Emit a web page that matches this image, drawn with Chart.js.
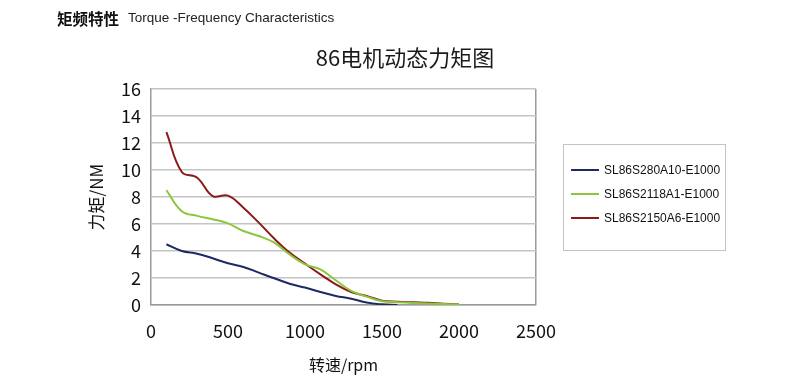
<!DOCTYPE html>
<html>
<head>
<meta charset="utf-8">
<script src="https://cdn.jsdelivr.net/npm/chart.js@4.4.1/dist/chart.umd.min.js"></script>
<style>
  html, body { margin: 0; padding: 0; background: #fff; }
  #wrap { position: relative; width: 797px; height: 382px; overflow: hidden; }
  #c { position: absolute; left: 0; top: 0; }
  .hdr-cn { position: absolute; left: 57px; top: 7px; font: bold 15.5px "Noto Sans CJK SC", sans-serif; color: #111; line-height: 22px; }
  .hdr-en { position: absolute; left: 128px; top: 10px; font: 13.5px "Liberation Sans", Arial, sans-serif; color: #222; line-height: 16px; }
  .title { position: absolute; left: 0; width: 810px; text-align: center; top: 41px; font: 22px "Noto Sans CJK SC", sans-serif; color: #1a1a1a; line-height: 30px; }
  .legend { position: absolute; left: 563px; top: 144px; width: 161px; height: 105px; border: 1px solid #c4c4c4; }
  .li { position: absolute; left: 7px; height: 16px; font: 12px "Liberation Sans", Arial, sans-serif; color: #111; line-height: 16px; white-space: nowrap; }
  .li span.sw { position: absolute; left: 0; top: 7px; width: 28px; height: 2px; }
  .li span.tx { position: absolute; left: 33px; top: 0; }
</style>
</head>
<body>
<div id="wrap">
  <canvas id="c" width="797" height="382"></canvas>
  <div class="hdr-cn">矩频特性</div>
  <div class="hdr-en">Torque -Frequency Characteristics</div>
  <div class="title">86电机动态力矩图</div>
  <div class="legend" id="legend"></div>
</div>
<script>
// ---- data ----
const speedsBlue = [100, 200, 300, 400, 500, 600, 700, 800, 900, 1000, 1100, 1200, 1300, 1400, 1500, 1600];
const torqueBlue = [4.5, 4.0, 3.8, 3.46, 3.09, 2.82, 2.4, 1.98, 1.58, 1.29, 0.96, 0.67, 0.47, 0.18, 0.05, 0.0];

const speedsGreen = [100, 200, 300, 400, 500, 600, 700, 800, 900, 1000, 1100, 1200, 1300, 1400, 1500, 1600, 1700, 1800, 1900, 2000];
const torqueGreen = [8.5, 6.95, 6.6, 6.35, 6.05, 5.48, 5.11, 4.62, 3.75, 3.01, 2.64, 1.83, 1.04, 0.62, 0.28, 0.2, 0.15, 0.12, 0.08, 0.05];

const speedsRed = [100, 200, 300, 400, 500, 600, 700, 800, 900, 1000, 1100, 1200, 1300, 1400, 1500, 1600, 1700, 1800, 1900, 2000];
const torqueRed = [12.8, 9.85, 9.43, 8.07, 8.1, 7.21, 6.1, 4.92, 3.88, 3.06, 2.27, 1.53, 0.96, 0.67, 0.32, 0.25, 0.2, 0.16, 0.1, 0.05];

const seriesNames = ["SL86S280A10-E1000", "SL86S2118A1-E1000", "SL86S2150A6-E1000"];
const seriesColors = ["#1d2a64", "#8cc63e", "#8c1a1a"];

const xTickValues = [0, 500, 1000, 1500, 2000, 2500];
const yTickValues = [0, 2, 4, 6, 8, 10, 12, 14, 16];

const xTitle = "转速/rpm";
const yTitle = "力矩/NM";

function pts(xs, ys) { return xs.map((x, i) => ({ x: x, y: ys[i] })); }

const datasets = [
  { label: seriesNames[0], data: pts(speedsBlue, torqueBlue) },
  { label: seriesNames[1], data: pts(speedsGreen, torqueGreen) },
  { label: seriesNames[2], data: pts(speedsRed, torqueRed) }
].map((d, i) => Object.assign(d, {
  borderColor: seriesColors[i],
  backgroundColor: seriesColors[i],
  borderWidth: 2,
  pointRadius: 0,
  tension: 0.4,
  fill: false
}));

// html legend
const lg = document.getElementById('legend');
seriesNames.forEach((n, i) => {
  const el = document.createElement('div');
  el.className = 'li';
  el.style.top = (17 + i * 24) + 'px';
  el.innerHTML = '<span class="sw" style="background:' + seriesColors[i] + '"></span><span class="tx">' + n + '</span>';
  lg.appendChild(el);
});

const tickFont = { family: "'Noto Sans CJK SC', sans-serif", size: 18 };

new Chart(document.getElementById('c'), {
  type: 'line',
  data: { datasets: datasets },
  options: {
    responsive: false,
    animation: false,
    layout: { padding: { left: 0, right: 261, top: 89, bottom: 0 } },
    plugins: { legend: { display: false }, tooltip: { enabled: false }, title: { display: false } },
    scales: {
      x: {
        type: 'linear',
        min: 0, max: 2500,
        afterBuildTicks: (s) => { s.ticks = xTickValues.map(v => ({ value: v })); },
        afterFit: (s) => { s.height = 77; },
        ticks: { font: tickFont, color: '#111', padding: 15, maxRotation: 0, callback: (v) => String(v) },
        grid: {
          drawTicks: false,
          color: (ctx) => (ctx.tick && ctx.tick.value === 2500) ? '#9a9a9a' : 'rgba(0,0,0,0)',
          lineWidth: 1.5
        },
        border: { color: '#9a9a9a', width: 1.5 },
        title: { display: true, text: xTitle, font: { family: "'Noto Sans CJK SC', sans-serif", size: 16 }, color: '#111', padding: { top: 0, bottom: 7 } }
      },
      y: {
        min: 0, max: 16,
        afterBuildTicks: (s) => { s.ticks = yTickValues.map(v => ({ value: v })); },
        afterFit: (s) => { s.width = 151; },
        ticks: { font: tickFont, color: '#111', padding: 10, callback: (v) => String(v) },
        grid: { drawTicks: false, color: '#c4c4c4', lineWidth: 1.5 },
        border: { color: '#9a9a9a', width: 1.5 },
        title: { display: true, text: yTitle, font: { family: "'Noto Sans CJK SC', sans-serif", size: 17 }, color: '#111', padding: { top: 86, bottom: 0 } }
      }
    }
  }
});
</script>
</body>
</html>
